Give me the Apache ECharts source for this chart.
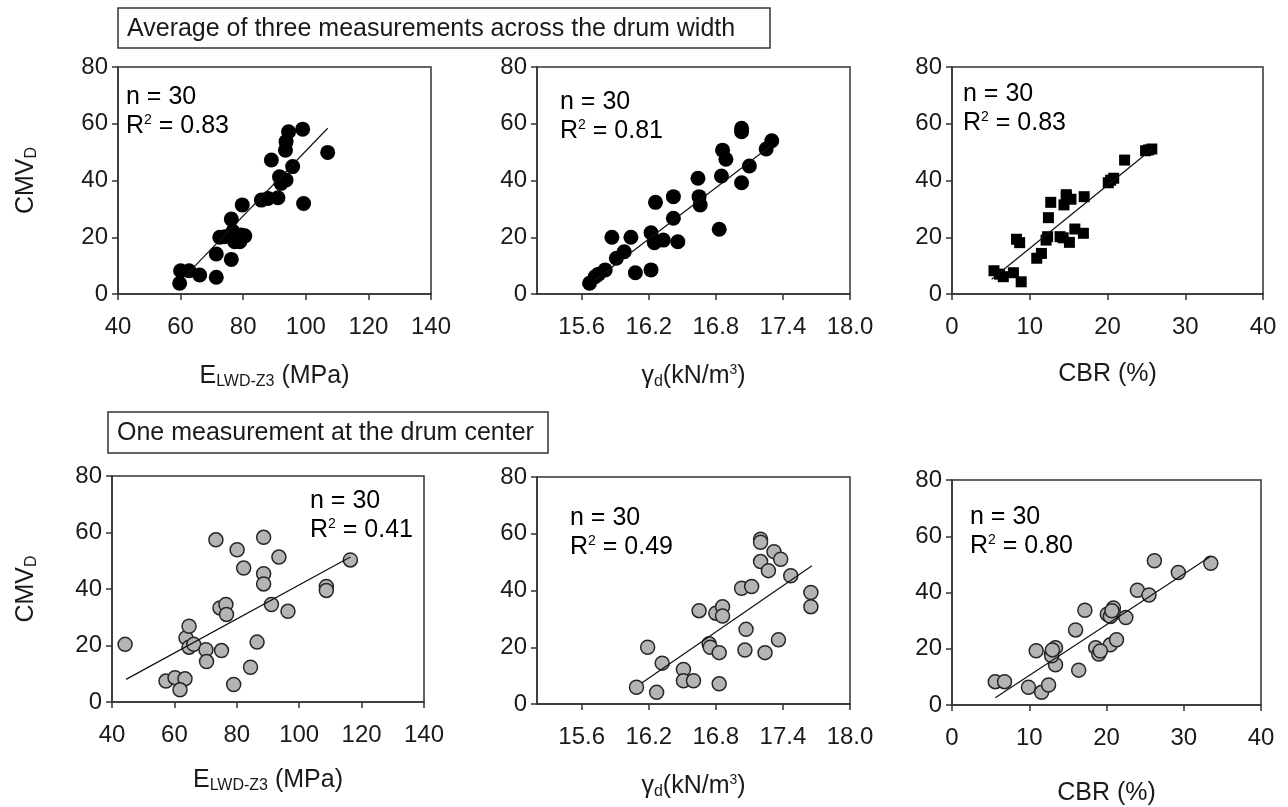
<!DOCTYPE html>
<html>
<head>
<meta charset="utf-8">
<script src="https://cdn.jsdelivr.net/npm/echarts@6/dist/echarts.min.js"></script>
<style>
  html, body { margin: 0; padding: 0; background: #fff; }
  #chart { width: 1288px; height: 807px; }
</style>
</head>
<body>
<div id="chart"></div>
<script>
// tick labels
const cmvTicks = [0, 20, 40, 60, 80]
const elwdTicks = [40, 60, 80, 100, 120, 140]
const gammaTicks = [15.6, 16.2, 16.8, 17.4, 18.0]
const cbrTicks = [0, 10, 20, 30, 40]

// average of three measurements across the drum width
const avgElwd = [59.7, 60, 62.7, 66.1, 71.4, 71.4, 76.2, 72.5, 76.2, 76.7, 77.3, 79.4, 79.7, 85.8, 87.9, 91.1, 89, 91.6, 92.1, 93.7, 95.8, 93.5, 93.7, 94.5, 99, 99.3, 107, 74.1, 78.9, 80.5]
const avgElwdCmv = [3.8, 8.2, 8.2, 6.7, 5.9, 14.1, 12.2, 20.0, 26.4, 22, 18.4, 20.8, 31.4, 33.1, 33.7, 33.9, 47.2, 41.3, 39, 40.2, 44.9, 50.7, 53.7, 57.2, 58.1, 31.9, 49.9, 20.2, 18.4, 20.5]
const avgGamma = [15.67, 15.72, 15.75, 15.81, 15.87, 15.91, 15.98, 16.04, 16.08, 16.22, 16.22, 16.25, 16.33, 16.46, 16.26, 16.42, 16.42, 16.64, 16.65, 16.66, 16.83, 16.85, 16.86, 16.89, 17.03, 17.03, 17.03, 17.10, 17.25, 17.30]
const avgGammaCmv = [3.8, 6.1, 7.0, 8.5, 20, 12.6, 14.9, 20, 7.5, 21.6, 8.5, 18.1, 19, 18.4, 32.3, 26.7, 34.3, 40.8, 34.3, 31.4, 22.8, 41.6, 50.7, 47.5, 58.4, 57.2, 39.2, 45.1, 51.1, 54]
const avgCbr = [5.4, 6.6, 7.9, 8.9, 8.3, 8.7, 10.9, 11.5, 12.3, 12.4, 12.7, 13.9, 15.1, 14.4, 14.7, 15.3, 15.8, 16.9, 17.0, 20.1, 20.8, 22.2, 24.9, 25.7, 14.7, 14.3, 6.1, 12.1, 20.4, 25.3]
const avgCbrCmv = [8.2, 6.1, 7.5, 4.3, 19.3, 18.1, 12.6, 14.3, 20.2, 26.9, 32.3, 20.2, 18.2, 31.4, 34.3, 33.4, 22.9, 21.4, 34.3, 39.2, 40.8, 47.2, 50.5, 51.1, 35, 19.8, 7, 19, 40.1, 50.8]

// one measurement at the drum center
const ctrElwd = [44.2, 57.3, 60.2, 63.4, 61.8, 63.7, 64.7, 64.7, 66.2, 70.1, 70.3, 75.1, 73.3, 74.6, 76.5, 76.7, 79, 80.1, 82.2, 84.4, 86.5, 88.6, 88.6, 88.6, 91.1, 93.5, 96.4, 108.7, 108.7, 116.4]
const ctrElwdCmv = [20.4, 7.4, 8.6, 8.2, 4.3, 22.7, 26.8, 19.4, 20.4, 18.5, 14.3, 18.2, 57.4, 33.3, 34.5, 31, 6.2, 53.9, 47.4, 12.3, 21.2, 58.3, 45.4, 41.8, 34.5, 51.3, 32.1, 40.9, 39.5, 50.3]
const ctrGamma = [16.09, 16.19, 16.27, 16.32, 16.51, 16.51, 16.60, 16.65, 16.74, 16.75, 16.83, 16.83, 16.80, 16.86, 16.86, 17.03, 17.12, 17.07, 17.06, 17.20, 17.20, 17.20, 17.27, 17.32, 17.38, 17.24, 17.36, 17.47, 17.65, 17.65]
const ctrGammaCmv = [5.9, 20, 4.1, 14.4, 12.2, 8.2, 8.2, 32.9, 21.2, 20, 18.1, 7.1, 32, 34.3, 31, 40.8, 41.4, 26.3, 19, 58.1, 57, 50.2, 47, 53.7, 51, 18.1, 22.6, 45.2, 39.3, 34.3]
const ctrCbr = [5.6, 6.8, 9.9, 10.9, 11.6, 12.5, 12.9, 13.4, 13.4, 16.0, 16.4, 17.2, 18.6, 19.0, 20.1, 20.5, 20.9, 21.3, 20.9, 22.5, 24.0, 25.5, 26.2, 29.3, 33.5, 20.5, 12.9, 19.2, 20.7, 13.0]
const ctrCbrCmv = [8.3, 8.3, 6.3, 19.3, 4.5, 7.1, 18.4, 20.4, 14.3, 26.7, 12.4, 33.7, 20.4, 18.1, 32.3, 21.4, 34.5, 23.2, 32.6, 31.1, 40.8, 39.1, 51.3, 47.1, 50.4, 31.5, 17.5, 19.2, 33.5, 19.6]

// regression line end points [x, y]
const avgElwdFit = [[61.3, 6.1], [107, 58.4]]
const avgGammaFit = [[15.72, 4.9], [17.30, 52.5]]
const avgCbrFit = [[5.1, 5.2], [25.7, 51]]
const ctrElwdFit = [[44.5, 8.0], [116.4, 51.3]]
const ctrGammaFit = [[16.14, 7.5], [17.66, 48.7]]
const ctrCbrFit = [[5.6, 2.6], [33.5, 52.9]]

const counts = [30, 30, 30, 30, 30, 30]
const r2 = ['0.83', '0.81', '0.83', '0.41', '0.49', '0.80']

const FONT = 'Liberation Sans, Arial, Helvetica, sans-serif'
const INK = '#1a1a1a'

function zip(xs, ys) {
  return xs.map((x, i) => [x, ys[i]])
}

const panels = [
  { x: avgElwd, y: avgElwdCmv, fit: avgElwdFit, kind: 'elwd', mark: 'black' },
  { x: avgGamma, y: avgGammaCmv, fit: avgGammaFit, kind: 'gamma', mark: 'black' },
  { x: avgCbr, y: avgCbrCmv, fit: avgCbrFit, kind: 'cbr', mark: 'square' },
  { x: ctrElwd, y: ctrElwdCmv, fit: ctrElwdFit, kind: 'elwd', mark: 'grey' },
  { x: ctrGamma, y: ctrGammaCmv, fit: ctrGammaFit, kind: 'gamma', mark: 'grey' },
  { x: ctrCbr, y: ctrCbrCmv, fit: ctrCbrFit, kind: 'cbr', mark: 'grey' }
]

const grids = [
  { left: 118, top: 67, width: 313, height: 227 },
  { left: 537, top: 67, width: 313, height: 227 },
  { left: 952, top: 67, width: 311, height: 227 },
  { left: 112, top: 476, width: 312, height: 226 },
  { left: 537, top: 477, width: 313, height: 227 },
  { left: 952, top: 480, width: 309, height: 226 }
]

// label spots for "n = .." / "R2 = .." (px)
const notes = [[126, 97], [560, 102], [963, 94], [310, 501], [570, 518], [970, 517]]
const xNameGap = [68, 68, 68, 64, 68, 76]

const subRich = {
  base: { fontSize: 25, fontFamily: FONT, color: INK },
  sub: { fontSize: 16, fontFamily: FONT, color: INK, padding: [12, 0, 0, 0] },
  sup: { fontSize: 14, fontFamily: FONT, color: INK, padding: [0, 0, 12, 0] }
}

const xNames = {
  elwd: '{base|E}{sub|LWD-Z3}{base| (MPa)}',
  gamma: '{base|γ}{sub|d}{base|(kN/m}{sup|3}{base|)}',
  cbr: '{base|CBR (%)}'
}

const axisLine = { show: true, onZero: false, lineStyle: { color: '#333', width: 1.5 } }
const axisTick = { show: true, inside: false, length: 6, lineStyle: { color: '#333', width: 1.5 } }

let xAxes = []
let yAxes = []
let series = []

panels.forEach(function (p, i) {
  let xa = {
    type: 'value',
    gridIndex: i,
    name: xNames[p.kind],
    nameLocation: 'middle',
    nameGap: xNameGap[i],
    nameTextStyle: { rich: subRich },
    axisLine: axisLine,
    axisTick: axisTick,
    splitLine: { show: false },
    axisLabel: { fontSize: 24, fontFamily: FONT, color: INK, margin: 21 }
  }
  if (p.kind === 'elwd') {
    xa.min = elwdTicks[0]
    xa.max = elwdTicks[elwdTicks.length - 1]
    xa.interval = 20
  } else if (p.kind === 'cbr') {
    xa.min = cbrTicks[0]
    xa.max = cbrTicks[cbrTicks.length - 1]
    xa.interval = 10
  } else {
    xa.min = 15.2
    xa.max = 18.0
    xa.axisTick = Object.assign({}, axisTick, { customValues: gammaTicks })
    xa.axisLabel = Object.assign({}, xa.axisLabel, {
      customValues: gammaTicks,
      formatter: function (v) { return v.toFixed(1) }
    })
  }
  xAxes.push(xa)

  let ya = {
    type: 'value',
    gridIndex: i,
    min: cmvTicks[0],
    max: cmvTicks[cmvTicks.length - 1],
    interval: 20,
    axisLine: axisLine,
    axisTick: axisTick,
    splitLine: { show: false },
    axisLabel: { fontSize: 24, fontFamily: FONT, color: INK, margin: 10 }
  }
  if (i % 3 === 0) {
    ya.name = '{base|CMV}{sub|D}'
    ya.nameLocation = 'middle'
    ya.nameGap = i === 0 ? 78 : 72
    ya.nameTextStyle = { rich: subRich }
  }
  yAxes.push(ya)

  let itemStyle
  let symbol = 'circle'
  let size = 15
  if (p.mark === 'black') {
    itemStyle = { color: '#000', opacity: 1 }
  } else if (p.mark === 'square') {
    symbol = 'rect'
    size = 11
    itemStyle = { color: '#000', opacity: 1 }
  } else {
    size = 14
    itemStyle = { color: '#b4b4b4', borderColor: '#262626', borderWidth: 1.5, opacity: 1 }
  }

  series.push({
    type: 'line',
    xAxisIndex: i,
    yAxisIndex: i,
    data: p.fit,
    symbol: 'none',
    silent: true,
    lineStyle: { color: '#111', width: 1.2 },
    z: 3
  })
  series.push({
    type: 'scatter',
    xAxisIndex: i,
    yAxisIndex: i,
    data: zip(p.x, p.y),
    symbol: symbol,
    symbolSize: size,
    itemStyle: itemStyle,
    z: 2
  })
})

let graphics = []
notes.forEach(function (pos, i) {
  graphics.push({
    type: 'text',
    x: pos[0],
    y: pos[1],
    style: {
      text: '{base|n = ' + counts[i] + '}',
      rich: subRich,
      verticalAlign: 'middle'
    }
  })
  graphics.push({
    type: 'text',
    x: pos[0],
    y: pos[1] + 29,
    style: {
      text: '{base|R}{sup|2}{base| = ' + r2[i] + '}',
      rich: subRich,
      verticalAlign: 'middle'
    }
  })
})

// heading boxes
function headBox(x, y, w, h, label) {
  return {
    type: 'group',
    children: [
      {
        type: 'rect',
        shape: { x: x, y: y, width: w, height: h },
        style: { fill: '#fff', stroke: '#333', lineWidth: 1.5 }
      },
      {
        type: 'text',
        x: x + 9,
        y: y + h / 2 + 1,
        style: { text: label, font: '25px ' + FONT, fill: INK, verticalAlign: 'middle' }
      }
    ]
  }
}
graphics.push(headBox(118, 8, 652, 40, 'Average of three measurements across the drum width'))
graphics.push(headBox(108, 412, 440, 41, 'One measurement at the drum center'))

const chart = echarts.init(document.getElementById('chart'))
chart.setOption({
  backgroundColor: '#fff',
  animation: false,
  grid: grids.map(g => Object.assign({ show: true, borderColor: '#333', borderWidth: 1.5, backgroundColor: 'transparent' }, g)),
  xAxis: xAxes,
  yAxis: yAxes,
  series: series,
  graphic: graphics
})
</script>
</body>
</html>
